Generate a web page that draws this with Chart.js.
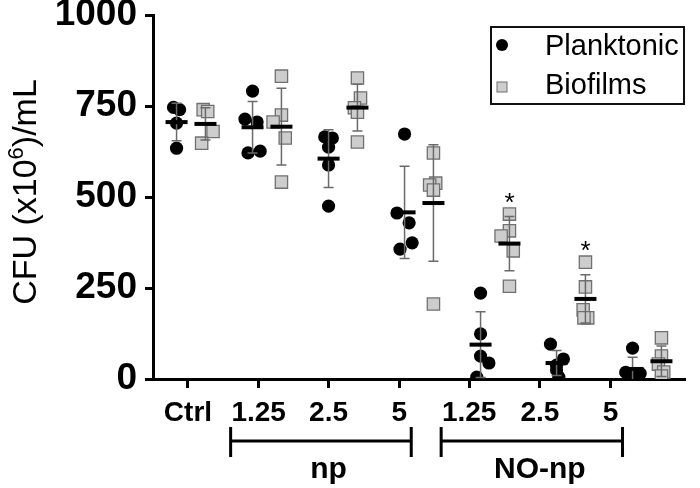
<!DOCTYPE html>
<html>
<head>
<meta charset="utf-8">
<script src="https://cdn.jsdelivr.net/npm/chart.js@4.4.1/dist/chart.umd.min.js"></script>
<style>
  html, body { margin: 0; padding: 0; background: #fff; }
  #wrap { width: 700px; height: 488px; position: relative; }
</style>
</head>
<body>
<div id="wrap"><canvas id="cfuChart" width="700" height="488"></canvas></div>
<script>
// ---- data ----
const tickLabels = ['Ctrl', '1.25', '2.5', '5', '1.25', '2.5', '5'];
// where the printed tick labels sit on the x axis (in group units)
const tickPositions = [-0.04, 0.89, 1.81, 2.74, 3.66, 4.59, 5.52];
const groupLabels = ['np', 'NO-np'];
const groupTicks = [[1, 2, 3], [4, 5, 6]];

const planktonic = [
    [746, 740, 703, 634],
    [791, 714, 706, 626, 621],
    [665, 662, 637, 588, 475],
    [673, 456, 429, 374, 357],
    [236, 124, 63, 44, 5],
    [96, 55, 38, 25, 5],
    [85, 18, 15, 12, 8]
];
const biofilms = [
    [740, 735, 680, 648],
    [832, 725, 706, 662, 541],
    [827, 772, 745, 733, 651],
    [621, 538, 533, 519, 206],
    [453, 407, 393, 352, 255],
    [321, 253, 190, 168, 168],
    [113, 63, 41, 19, 8]
];
// small horizontal scatter of the dots, as in the figure
const jitterP = [
    [-0.04, 0.04, 0, 0],
    [0, -0.1, 0.06, 0.1, -0.06],
    [-0.05, 0.05, 0, 0, 0],
    [0, -0.1, 0.06, 0.1, -0.06],
    [0, 0, 0, 0.11, -0.05],
    [-0.08, 0.09, 0, 0, 0.03],
    [0, -0.09, 0.1, 0.04, -0.04]
];
const jitterB = [
    [-0.03, 0.03, 0.1, -0.05],
    [0, 0, -0.11, 0.05, 0],
    [0, 0.04, -0.04, 0, 0],
    [0, 0.03, -0.05, 0, 0],
    [0, 0, -0.11, 0.05, 0],
    [0, 0, -0.03, 0.03, -0.02],
    [0, 0, -0.04, 0.03, 0]
];
const sigBiofilm = [4, 5];   // groups marked with *

const OFF = 0.19;
const mean = a => a.reduce((s, v) => s + v, 0) / a.length;
const sd = a => { const m = mean(a); return Math.sqrt(a.reduce((s, v) => s + (v - m) * (v - m), 0) / (a.length - 1)); };

const ptsP = [], ptsB = [], means = [], errs = [];
planktonic.forEach((vals, i) => {
    vals.forEach((v, j) => ptsP.push({ x: i - OFF + jitterP[i][j], y: v }));
    means.push({ x: i - OFF, y: mean(vals) });
    errs.push({ x: i - OFF, m: mean(vals), s: sd(vals) });
});
biofilms.forEach((vals, i) => {
    vals.forEach((v, j) => ptsB.push({ x: i + OFF + jitterB[i][j], y: v }));
    means.push({ x: i + OFF, y: mean(vals) });
    errs.push({ x: i + OFF, m: mean(vals), s: sd(vals) });
});

const FONT = '"Liberation Sans", Arial, sans-serif';

// error bars go under the mean lines but over the dots
const errorBarPlugin = {
    id: 'errorBars',
    beforeDatasetDraw: (chart, args) => {
        if (args.index !== 2) return;
        const ctx = chart.ctx, xs = chart.scales.x, ys = chart.scales.y;
        ctx.save();
        ctx.strokeStyle = '#6a6a6a';
        ctx.lineWidth = 1.5;
        errs.forEach(e => {
            const x = xs.getPixelForValue(e.x);
            const y1 = ys.getPixelForValue(Math.max(0, e.m - e.s));
            const y2 = ys.getPixelForValue(e.m + e.s);
            ctx.beginPath();
            ctx.moveTo(x, y1); ctx.lineTo(x, y2);
            ctx.moveTo(x - 5, y2); ctx.lineTo(x + 5, y2);
            if (e.m - e.s > 0) { ctx.moveTo(x - 5, y1); ctx.lineTo(x + 5, y1); }
            ctx.stroke();
        });
        ctx.restore();
    }
};

const extrasPlugin = {
    id: 'extras',
    afterDraw: (chart) => {
        const ctx = chart.ctx, xs = chart.scales.x, ys = chart.scales.y;
        const area = chart.chartArea;
        ctx.save();
        ctx.fillStyle = '#000';
        ctx.strokeStyle = '#000';

        // y title with superscript
        ctx.save();
        ctx.translate(36, 192);
        ctx.rotate(-Math.PI / 2);
        ctx.font = '34px ' + FONT;
        const p1 = 'CFU (x10', p2 = ')/mL';
        const w1 = ctx.measureText(p1).width, w2 = ctx.measureText(p2).width;
        ctx.font = '22px ' + FONT;
        const ws = ctx.measureText('6').width;
        const start = -(w1 + ws + w2) / 2;
        ctx.textBaseline = 'alphabetic';
        ctx.textAlign = 'left';
        ctx.font = '34px ' + FONT;
        ctx.fillText(p1, start, 0);
        ctx.font = '22px ' + FONT;
        ctx.fillText('6', start + w1, -13);
        ctx.font = '34px ' + FONT;
        ctx.fillText(p2, start + w1 + ws, 0);
        ctx.restore();

        // asterisks over the significant biofilm groups
        ctx.font = '26px ' + FONT;
        ctx.textAlign = 'center';
        sigBiofilm.forEach(i => {
            const x = xs.getPixelForValue(i + OFF);
            const top = ys.getPixelForValue(Math.max(...biofilms[i]));
            ctx.fillText('*', x, top - 3);
        });

        // brackets + group names under the axis
        ctx.lineWidth = 3;
        groupTicks.forEach((g, k) => {
            const l = xs.getPixelForValue(tickPositions[g[0]]) - 28;
            const r = xs.getPixelForValue(tickPositions[g[g.length - 1]]) + 12;
            const c = xs.getPixelForValue(tickPositions[g[1]]);
            ctx.beginPath();
            ctx.moveTo(l, 427); ctx.lineTo(l, 457);
            ctx.moveTo(r, 427); ctx.lineTo(r, 457);
            ctx.moveTo(l, 441); ctx.lineTo(r, 441);
            ctx.stroke();
            ctx.font = 'bold 30px ' + FONT;
            ctx.textAlign = 'center';
            ctx.fillText(groupLabels[k], c, 478);
        });

        // legend box
        const bx = area.right - 194, by = 27;
        ctx.lineWidth = 2;
        ctx.strokeStyle = '#111';
        ctx.strokeRect(bx, by, 193, 77);
        ctx.beginPath();
        ctx.arc(bx + 11, 45, 6, 0, Math.PI * 2);
        ctx.fill();
        ctx.fillStyle = '#cdcdcd';
        ctx.fillRect(bx + 6, 82, 10, 10);
        ctx.strokeStyle = '#6f6f6f';
        ctx.lineWidth = 1;
        ctx.strokeRect(bx + 6, 82, 10, 10);
        ctx.fillStyle = '#000';
        ctx.font = '29px ' + FONT;
        ctx.textAlign = 'left';
        ctx.fillText('Planktonic', bx + 54, 55);
        ctx.fillText('Biofilms', bx + 54, 94);
        ctx.restore();
    }
};

new Chart(document.getElementById('cfuChart').getContext('2d'), {
    type: 'scatter',
    data: {
        datasets: [
            { label: 'Planktonic', data: ptsP, pointStyle: 'circle', pointRadius: 6.6, backgroundColor: '#000', borderColor: '#000', borderWidth: 0, order: 2 },
            { label: 'Biofilms', data: ptsB, pointStyle: 'rect', pointRadius: 8.7, backgroundColor: '#cdcdcd', borderColor: '#707070', borderWidth: 1.3, order: 1 },
            { label: 'Mean', data: means, pointStyle: 'line', pointRadius: 11, borderColor: '#000', borderWidth: 4, order: 0 }
        ]
    },
    options: {
        responsive: false, animation: false, maintainAspectRatio: false,
        layout: { padding: { top: 15, right: 2, left: 0, bottom: 0 } },
        plugins: { legend: { display: false }, tooltip: { enabled: false } },
        scales: {
            x: {
                type: 'linear', min: -0.5, max: 6.5,
                afterBuildTicks: (axis) => { axis.ticks = tickPositions.map(v => ({ value: v })); },
                ticks: { callback: (v, i) => tickLabels[i], autoSkip: false, maxRotation: 0, padding: 8,
                         color: '#000', font: { family: FONT, size: 28, weight: 'bold' } },
                grid: { drawOnChartArea: false, tickLength: 9, tickWidth: 3, tickColor: '#000' },
                border: { color: '#000', width: 3 },
                afterFit: (s) => { s.height = 109; s.paddingLeft = 0; s.paddingRight = 0; }
            },
            y: {
                min: 0, max: 1000,
                ticks: { stepSize: 250, padding: 8, color: '#000', callback: (v) => String(v),
                         font: { family: FONT, size: 37, weight: 'bold' } },
                grid: { drawOnChartArea: false, tickLength: 8, tickWidth: 3, tickColor: '#000' },
                border: { color: '#000', width: 3 },
                afterFit: (s) => { s.width = 153; s.paddingTop = 0; s.paddingBottom = 0; }
            }
        }
    },
    plugins: [errorBarPlugin, extrasPlugin]
});
</script>
</body>
</html>
